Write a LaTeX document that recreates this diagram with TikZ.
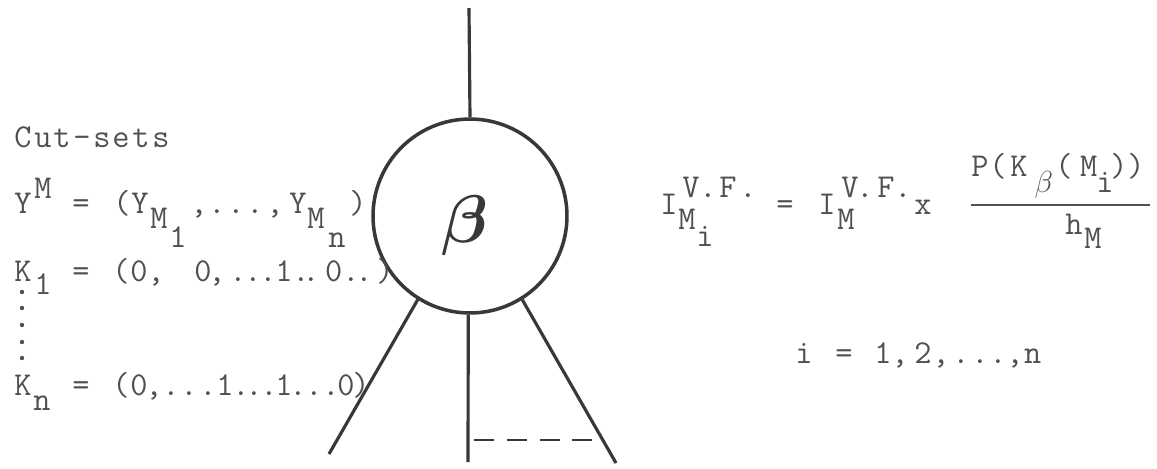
\documentclass[tikz,border=0pt]{standalone}
\usepackage{graphicx}
\usepackage{fontspec}
\usepackage{bm}
\definecolor{txt}{HTML}{505050}
\definecolor{ink}{HTML}{383838}
\newlength\pxu
\setlength\pxu{0.02cm}
\newcommand\tw{\fontsize{19}{21}\ttfamily\addfontfeatures{FakeBold=1.6}\color{txt}}
\newcommand\pc[3][0]{\rlap{\hspace*{#2\pxu}\makebox[0pt]{\raisebox{#1\pxu}{#3}}}}
\newcommand\gb{{\fontsize{17}{18}\selectfont$\beta$}}
\newcommand\bigbeta{\fontsize{20}{22}\selectfont}
\begin{document}
\begin{tikzpicture}[x=0.02cm,y=-0.02cm,
  row/.style={anchor=base west,inner sep=0pt,outer sep=0pt,font=\tw},
  edge/.style={draw=ink,line width=1.8pt},
  tdot/.style={fill=txt}]
\fill[white] (0,0) rectangle (1157,468);
\useasboundingbox (0,0) rectangle (1157,468);

% fault-tree gate
\node[circle,draw=ink,line width=2pt,minimum size=3.88cm,inner sep=0pt] (beta) at (470,216) {};
\node[inner sep=0pt,text=ink,font=\bigbeta] (betal) at (465,226) {\scalebox{1.85}{$\bm{\beta}$}};
\coordinate (topend) at (469,8);
\coordinate (lftend) at (329,454);
\coordinate (midend) at (468,462);
\coordinate (rgtend) at (616,463);
\coordinate (dsa) at (474,440);
\coordinate (dsb) at (593,440);
\draw[edge] (beta.north) -- (topend);
\draw[edge] (beta.238) -- (lftend);
\draw[edge] (beta.269) -- (midend);
\draw[edge] (beta.302) -- (rgtend);
\draw[draw=ink,line width=1.6pt,dash pattern=on 20\pxu off 12.8\pxu] (dsa) -- (dsb);

% left text
\node[row] (cuts) at (0,147) {\pc{22}{C}\pc{42}{u}\pc{61}{t}\pc{81}{-}\pc{101}{s}\pc{120}{e}\pc{140}{t}\pc{160}{s}};
\node[row] (ym) at (0,213) {\pc{22}{Y}\pc[15]{42}{M}\pc{80}{=}\pc{121}{(}\pc{139}{Y}\pc[-15]{158}{M}\pc[-34]{177}{1}\pc{198}{,}\pc{216}{.}\pc{235}{.}\pc{254}{.}\pc{274}{,}\pc{297}{Y}\pc[-15]{315}{M}\pc[-34]{336}{n}\pc{357}{)}};
\node[row] (k1) at (0,281) {\pc{22}{K}\pc[-13]{42}{1}\pc{80}{=}\pc{120}{(}\pc{138}{0}\pc{155}{,}\pc{202}{0}\pc{216}{,}\pc{237}{.}\pc{252}{.}\pc{267}{.}\pc{283}{1}\pc{300}{.}\pc{310}{.}\pc{333}{0}\pc{350}{.}\pc{363}{.}\pc{384}{)}};
\node[row] (kn) at (0,395) {\pc{22}{K}\pc[-15]{41}{n}\pc{80}{=}\pc{120}{(}\pc{138}{0}\pc{153}{,}\pc{170}{.}\pc{188}{.}\pc{207}{.}\pc{224}{1}\pc{240}{.}\pc{253}{.}\pc{268}{.}\pc{283}{1}\pc{297}{.}\pc{313}{.}\pc{330}{.}\pc{345}{0}\pc{360}{)}};
\foreach \yy in {292,308,325,342,358} \fill[tdot] (22,\yy) circle (2.2);

% right formula
\node[row] (imi) at (0,214) {\pc{668}{I}\pc[17]{690}{V}\pc[17]{707}{.}\pc[17]{727}{F}\pc[17]{747}{.}\pc[-15]{686}{M}\pc[-32]{704}{i}\pc{784}{=}\pc{826}{I}\pc[17]{849}{V}\pc[17]{864}{.}\pc[17]{885}{F}\pc[17]{902}{.}\pc[-15]{845}{M}\pc{922}{x}};
\node[row] (num) at (0,176) {\pc{979}{P}\pc{997}{(}\pc{1018}{K}\pc[-16]{1043}{\gb}\pc{1063}{(}\pc{1088}{M}\pc[-16]{1104}{i}\pc{1118}{)}\pc{1135}{)}};
\coordinate (fba) at (971,205);
\coordinate (fbb) at (1150,205);
\draw[draw=txt,line width=1.1pt] (fba) -- (fbb);
\node[row] (den) at (0,234) {\pc{1073}{h}\pc[-14]{1092}{M}};
\node[row] (irange) at (0,363) {\pc{803}{i}\pc{843}{=}\pc{882}{1}\pc{899}{,}\pc{922}{2}\pc{940}{,}\pc{960}{.}\pc{979}{.}\pc{997}{.}\pc{1014}{,}\pc{1032}{n}};
\end{tikzpicture}
\end{document}
